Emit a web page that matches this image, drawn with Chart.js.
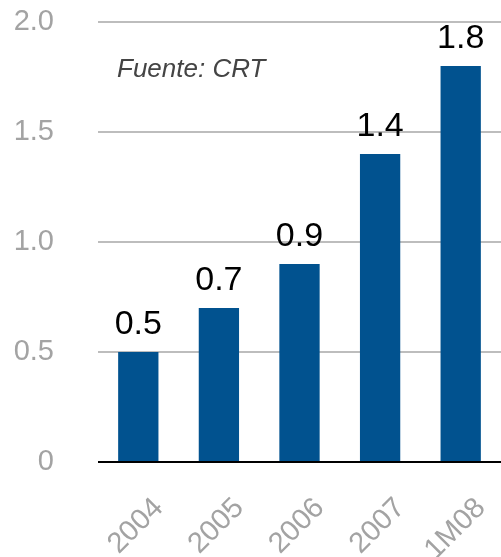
<!DOCTYPE html>
<html>
<head>
<meta charset="utf-8">
<script src="https://cdn.jsdelivr.net/npm/chart.js@4/dist/chart.umd.min.js"></script>
<style>
  html, body { margin: 0; padding: 0; background: #fff; }
  #wrap { width: 501px; height: 557px; }
</style>
</head>
<body>
<div id="wrap"><canvas id="myChart"></canvas></div>
<script>
// data
var categories = ['2004', '2005', '2006', '2007', '1M08'];
var values = [0.5, 0.7, 0.9, 1.4, 1.8];
var yTicks = [0, 0.5, 1.0, 1.5, 2.0];
var sourceNote = 'Fuente: CRT';

var FONT = '"Liberation Sans", Arial, Helvetica, sans-serif';

// value labels over the bars, rotated x labels and the source note
var labelsPlugin = {
	id: 'labelsPlugin',
	afterDraw: function(chart) {
		var ctx = chart.ctx;
		var meta = chart.getDatasetMeta(0);
		var xScale = chart.scales.x;
		var area = chart.chartArea;
		ctx.save();

		// bar values
		ctx.fillStyle = '#000';
		ctx.font = '34px ' + FONT;
		ctx.textAlign = 'center';
		ctx.textBaseline = 'alphabetic';
		meta.data.forEach(function(bar, i) {
			ctx.fillText(values[i].toFixed(1), bar.x, bar.y - 18);
		});

		// x labels, rotated 45deg
		ctx.fillStyle = '#a3a3a3';
		ctx.font = '29px ' + FONT;
		ctx.textAlign = 'right';
		for (var i = 0; i < categories.length; i++) {
			var x = xScale.getPixelForValue(i);
			ctx.save();
			ctx.translate(x + 26, area.bottom + 47);
			ctx.rotate(-Math.PI / 4);
			ctx.fillText(categories[i], 0, 0);
			ctx.restore();
		}

		// source note
		ctx.fillStyle = '#444';
		ctx.font = 'italic 26px ' + FONT;
		ctx.textAlign = 'left';
		ctx.fillText(sourceNote, area.left + 19, 77);

		ctx.restore();
	}
};

var ctx = document.getElementById('myChart').getContext('2d');
var myChart = new Chart(ctx, {
	type: 'bar',
	data: {
		labels: categories,
		datasets: [{
			data: values,
			backgroundColor: '#01528f',
			borderWidth: 0,
			barPercentage: 0.5,
			categoryPercentage: 1.0
		}]
	},
	options: {
		responsive: true,
		maintainAspectRatio: false,
		animation: false,
		layout: { padding: { top: 22, right: 0, bottom: 95, left: 0 } },
		plugins: {
			legend: { display: false },
			tooltip: { enabled: false }
		},
		scales: {
			x: {
				afterFit: function(scale) { scale.height = 0; },
				ticks: { display: false },
				grid: { display: false, drawTicks: false },
				border: { display: false }
			},
			y: {
				min: 0,
				max: 2.0,
				afterFit: function(scale) {
					scale.width = 98;
					scale.paddingTop = 0;
					scale.paddingBottom = 0;
				},
				afterBuildTicks: function(scale) {
					scale.ticks = yTicks.map(function(v) { return { value: v }; });
				},
				ticks: {
					padding: 44,
					color: '#a3a3a3',
					font: { family: FONT, size: 29 },
					callback: function(v) { return v === 0 ? '0' : v.toFixed(1); }
				},
				grid: {
					drawTicks: false,
					lineWidth: 2,
					color: function(c) { return c.tick && c.tick.value === 0 ? '#000' : '#bdbdbd'; }
				},
				border: { display: false }
			}
		}
	},
	plugins: [labelsPlugin]
});
</script>
</body>
</html>
